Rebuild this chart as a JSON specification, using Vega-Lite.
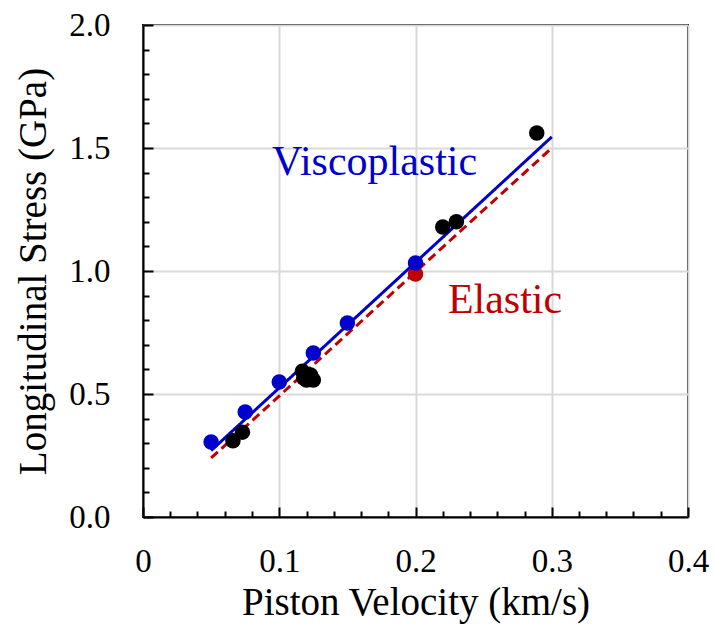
{
  "$schema": "https://vega.github.io/schema/vega-lite/v6.json",
  "width": 545,
  "height": 492,
  "autosize": "none",
  "padding": {"left": 143, "top": 25, "right": 26, "bottom": 118},
  "background": "white",
  "config": {
    "font": "Liberation Serif",
    "view": {"stroke": "black", "strokeWidth": 2},
    "axis": {
      "domainColor": "black", "domainWidth": 2,
      "tickColor": "black", "tickWidth": 2,
      "gridColor": "#d9d9d9", "gridWidth": 2,
      "labelFont": "Liberation Serif", "labelFontSize": 33, "labelColor": "black",
      "titleFont": "Liberation Serif", "titleFontSize": 39, "titleFontWeight": "normal", "titleColor": "black"
    }
  },
  "datasets": {
    "lines": [
      {"v": 0.05, "s": 0.27, "series": "Viscoplastic"},
      {"v": 0.3, "s": 1.545, "series": "Viscoplastic"},
      {"v": 0.05, "s": 0.24, "series": "Elastic"},
      {"v": 0.3, "s": 1.5, "series": "Elastic"}
    ],
    "points": [
      {"v": 0.2, "s": 0.988, "series": "Elastic"},
      {"v": 0.05, "s": 0.305, "series": "Viscoplastic"},
      {"v": 0.075, "s": 0.427, "series": "Viscoplastic"},
      {"v": 0.1, "s": 0.549, "series": "Viscoplastic"},
      {"v": 0.125, "s": 0.667, "series": "Viscoplastic"},
      {"v": 0.15, "s": 0.789, "series": "Viscoplastic"},
      {"v": 0.2, "s": 1.033, "series": "Viscoplastic"},
      {"v": 0.066, "s": 0.31, "series": "Experiment"},
      {"v": 0.073, "s": 0.345, "series": "Experiment"},
      {"v": 0.117, "s": 0.593, "series": "Experiment"},
      {"v": 0.123, "s": 0.577, "series": "Experiment"},
      {"v": 0.118, "s": 0.565, "series": "Experiment"},
      {"v": 0.12, "s": 0.557, "series": "Experiment"},
      {"v": 0.125, "s": 0.557, "series": "Experiment"},
      {"v": 0.22, "s": 1.179, "series": "Experiment"},
      {"v": 0.23, "s": 1.2, "series": "Experiment"},
      {"v": 0.289, "s": 1.561, "series": "Experiment"}
    ],
    "labels": [
      {"v": 0.17, "s": 1.39, "text": "Viscoplastic", "series": "Viscoplastic"},
      {"v": 0.2657, "s": 0.83, "text": "Elastic", "series": "Elastic"}
    ]
  },
  "resolve": {"axis": {"x": "independent", "y": "independent"}},
  "layer": [
    {
      "layer": [
        {
          "data": {"name": "lines"},
          "mark": {"type": "line", "strokeWidth": 3},
          "encoding": {
            "x": {"field": "v", "type": "quantitative",
              "scale": {"domain": [0, 0.4], "nice": false},
              "axis": {"orient": "bottom", "values": [0, 0.1, 0.2, 0.3, 0.4], "tickSize": -10,
                "labelExpr": "datum.value == 0 ? '0' : format(datum.value, '.1f')",
                "labelPadding": 38, "labelFlush": false,
                "title": "Piston Velocity (km/s)", "titleBaseline": "alphabetic", "titleY": 97, "titlePadding": 0}},
            "y": {"field": "s", "type": "quantitative",
              "scale": {"domain": [0, 2], "nice": false},
              "axis": {"orient": "left", "values": [0, 0.5, 1, 1.5, 2], "tickSize": -10, "format": ".1f",
                "labelPadding": 43, "labelFlush": false,
                "title": "Longitudinal Stress (GPa)", "titleBaseline": "alphabetic", "titleAngle": -90,
                "titleX": -98, "titleY": 246, "titleAlign": "center"}},
            "color": {"field": "series", "type": "nominal",
              "scale": {"domain": ["Viscoplastic", "Elastic", "Experiment"], "range": ["#0000cc", "#c00000", "black"]},
              "legend": null},
            "strokeDash": {"field": "series", "type": "nominal",
              "scale": {"domain": ["Viscoplastic", "Elastic"], "range": [[1, 0], [9, 5]]},
              "legend": null}
          }
        },
        {
          "data": {"name": "points"},
          "mark": {"type": "circle", "opacity": 1},
          "encoding": {
            "x": {"field": "v", "type": "quantitative"},
            "y": {"field": "s", "type": "quantitative"},
            "color": {"field": "series", "type": "nominal", "legend": null},
            "size": {"field": "series", "type": "nominal",
              "scale": {"domain": ["Viscoplastic", "Elastic", "Experiment"], "range": [240, 240, 165]},
              "legend": null}
          }
        },
        {
          "data": {"name": "labels"},
          "mark": {"type": "text", "font": "Liberation Serif", "fontSize": 42, "baseline": "alphabetic", "align": "center"},
          "encoding": {
            "x": {"field": "v", "type": "quantitative"},
            "y": {"field": "s", "type": "quantitative"},
            "text": {"field": "text"},
            "color": {"field": "series", "type": "nominal",
              "scale": {"domain": ["Viscoplastic", "Elastic", "Experiment"], "range": ["#0000ff", "#c00000", "black"]},
              "legend": null}
          }
        }
      ]
    },
    {
      "data": {"name": "labels"},
      "mark": {"type": "point", "opacity": 0},
      "encoding": {
        "x": {"field": "v", "type": "quantitative",
          "axis": {"orient": "bottom", "values": [0.02, 0.04, 0.06, 0.08, 0.12, 0.14, 0.16, 0.18, 0.22, 0.24, 0.26, 0.28, 0.32, 0.34, 0.36, 0.38],
            "tickSize": -6, "labels": false, "grid": false, "domain": false, "title": null}},
        "y": {"field": "s", "type": "quantitative",
          "axis": {"orient": "left", "values": [0.1, 0.2, 0.3, 0.4, 0.6, 0.7, 0.8, 0.9, 1.1, 1.2, 1.3, 1.4, 1.6, 1.7, 1.8, 1.9],
            "tickSize": -6, "labels": false, "grid": false, "domain": false, "title": null}}
      }
    }
  ]
}
